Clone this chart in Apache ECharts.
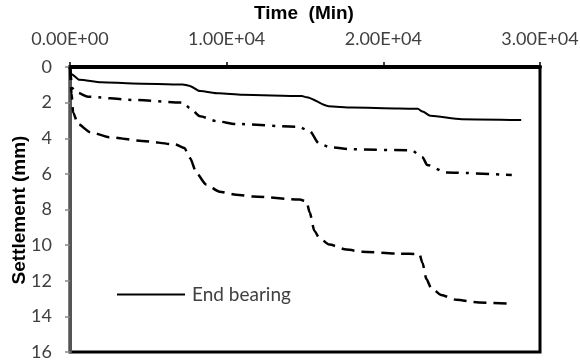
<!DOCTYPE html>
<html>
<head>
<meta charset="utf-8">
<script src="https://cdn.jsdelivr.net/npm/echarts@6/dist/echarts.min.js"></script>
<style>
  html, body { margin: 0; padding: 0; background: #fff; }
  #chart { width: 580px; height: 364px; }
</style>
</head>
<body>
<div id="chart"></div>
<script>
// Settlement (mm) against time (min) for three piles
const xTicks = [0, 10000, 20000, 30000];
const yTicks = [0, 2, 4, 6, 8, 10, 12, 14, 16];
const xTitle = 'Time  (Min)';
const yTitle = 'Settlement (mm)';

const endBearing = [
  [0, 0.2], [100, 0.4], [600, 0.72], [2000, 0.86], [4000, 0.92], [7200, 0.98],
  [7600, 1.05], [8300, 1.35], [9500, 1.48], [11000, 1.56], [14800, 1.63],
  [15100, 1.7], [16500, 2.2], [18000, 2.28], [21000, 2.33], [22200, 2.35],
  [22500, 2.5], [23000, 2.74], [25000, 2.93], [28800, 2.98]
];

const dashDot = [
  [0, 0], [150, 1.2], [500, 1.45], [1150, 1.67], [4000, 1.85], [7200, 1.99],
  [7650, 2.3], [8300, 2.77], [9400, 3.05], [10600, 3.2], [14600, 3.36],
  [15300, 3.6], [15900, 4.3], [16600, 4.5], [18000, 4.62], [21800, 4.68],
  [22500, 5.07], [22800, 5.5], [24000, 5.92], [28200, 6.07]
];

const dashed = [
  [0, 0], [100, 1.5], [200, 2.55], [500, 3.2], [1300, 3.66], [2500, 3.94],
  [4600, 4.15], [6700, 4.34], [7300, 4.55], [7650, 5.1], [8100, 6.0],
  [8700, 6.6], [9550, 7.0], [10600, 7.17], [11700, 7.27], [14650, 7.44],
  [15100, 7.55], [15300, 8.17], [15600, 9.2], [15900, 9.58], [16550, 9.97],
  [17650, 10.25], [18650, 10.37], [21000, 10.48], [22300, 10.5], [22500, 11.0],
  [22750, 11.9], [23050, 12.4], [23700, 12.8], [24650, 13.07], [26100, 13.22],
  [28200, 13.3]
];

// Format like 1.00E+04
function sci(v) {
  if (v === 0) return '0.00E+00';
  const e = Math.floor(Math.log10(Math.abs(v)));
  const m = v / Math.pow(10, e);
  const sign = e < 0 ? '-' : '+';
  const ee = String(Math.abs(e)).padStart(2, '0');
  return m.toFixed(2) + 'E' + sign + ee;
}

const chart = echarts.init(document.getElementById('chart'), null, { renderer: 'canvas' });

const labelFont = { fontFamily: 'Lato', fontSize: 18, color: '#404040' };
const titleFont = { fontFamily: 'Liberation Sans', fontSize: 19, fontWeight: 'bold', color: '#000' };

const lineCommon = {
  type: 'line',
  showSymbol: false,
  smooth: 0.25,
  smoothMonotone: 'x',
  animation: false,
  color: '#000'
};

chart.setOption({
  animation: false,
  grid: {
    left: 70, right: 40, top: 67, bottom: 12,
    containLabel: false, outerBoundsMode: 'none',
    show: true, borderColor: '#000', borderWidth: 3, backgroundColor: 'transparent'
  },
  graphic: [
    {
      type: 'text', left: 306 - 52, top: 4,
      style: Object.assign({ text: xTitle, fill: titleFont.color,
        font: 'bold 19px "Liberation Sans"' })
    },
    {
      type: 'text', x: 20, y: 210, rotation: Math.PI / 2,
      style: { text: yTitle, fill: '#000', font: 'bold 19px "Liberation Sans"',
        align: 'center', verticalAlign: 'middle' }
    }
  ],
  legend: {
    data: ['End bearing'],
    left: 112, top: 280,
    icon: 'rect', itemWidth: 68, itemHeight: 2, itemGap: 10,
    textStyle: { fontFamily: 'Lato', fontSize: 19, color: '#404040', padding: [0, 0, 0, 2] }
  },
  xAxis: {
    type: 'value', position: 'top',
    min: xTicks[0], max: xTicks[xTicks.length - 1], interval: 10000,
    axisLine: { show: true, lineStyle: { color: '#000', width: 4 } },
    axisTick: { show: true, inside: false, length: 5, lineStyle: { color: '#000', width: 1.5 } },
    axisLabel: Object.assign({ margin: 19, formatter: v => sci(v) }, labelFont),
    splitLine: { show: false }
  },
  yAxis: {
    type: 'value', inverse: true,
    min: yTicks[0], max: yTicks[yTicks.length - 1], interval: 2,
    axisLine: { show: true, lineStyle: { color: '#555', width: 3 } },
    axisTick: { show: true, inside: false, length: 5, lineStyle: { color: '#888', width: 1.5 } },
    axisLabel: Object.assign({ margin: 18 }, labelFont),
    splitLine: { show: false }
  },
  series: [
    Object.assign({ name: 'End bearing', data: endBearing,
      lineStyle: { color: '#000', width: 2, type: 'solid' } }, lineCommon),
    Object.assign({ name: 'Pile B', data: dashDot,
      lineStyle: { color: '#000', width: 2.5, type: [13, 7, 3, 7] } }, lineCommon),
    Object.assign({ name: 'Pile C', data: dashed,
      lineStyle: { color: '#000', width: 2.5, type: [13, 7] } }, lineCommon)
  ]
});
</script>
</body>
</html>
